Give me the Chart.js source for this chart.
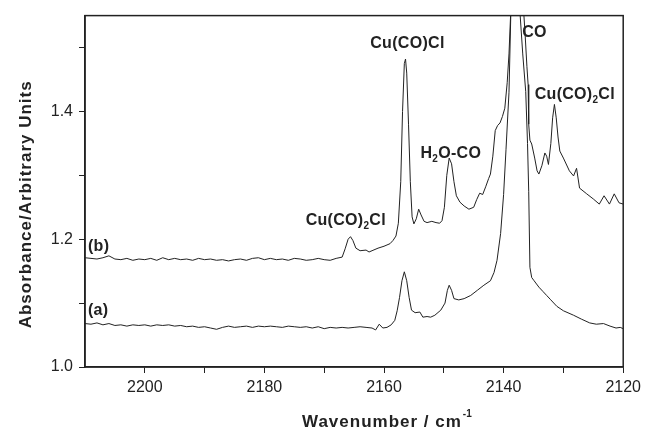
<!DOCTYPE html>
<html>
<head>
<meta charset="utf-8">
<script src="https://cdn.jsdelivr.net/npm/chart.js@4.4.0/dist/chart.umd.min.js"></script>
<style>
  html, body { margin: 0; padding: 0; background: #fff; }
  #wrap { width: 646px; height: 429px; }
</style>
</head>
<body>
<div id="wrap"><canvas id="spectrum"></canvas></div>
<script>
// trace (b) - wavenumber / absorbance
const wnB = [2210, 2209, 2208, 2207, 2206, 2205, 2204, 2203, 2202, 2201, 2200, 2199, 2198, 2197, 2196, 2195,
  2194, 2193, 2192, 2191, 2190, 2189, 2188, 2187, 2186, 2185, 2184, 2183, 2182, 2181, 2180, 2179, 2178,
  2177, 2176, 2175, 2174, 2173, 2172, 2171, 2170, 2169, 2168, 2167, 2166.5, 2166, 2165.6, 2165.2, 2164.7,
  2164, 2163, 2162.5, 2162, 2161, 2160, 2159, 2158.5, 2158, 2157.6, 2157.2, 2156.9, 2156.6, 2156.4, 2156.2,
  2155.9, 2155.6, 2155.3, 2155, 2154.6, 2154.2, 2153.8, 2153.3, 2152.8, 2152, 2151.3, 2150.7, 2150.3,
  2149.9, 2149.5, 2149.1, 2148.7, 2148.3, 2147.9, 2147.3, 2146.6, 2145.8, 2145, 2144.5, 2144, 2143.5,
  2143, 2142.5, 2142.2, 2141.8, 2141.4, 2141, 2140.6, 2140.2, 2139.8, 2139.4, 2139.1, 2138.7, 2138,
  2137.4, 2136.9, 2136.6, 2136.4, 2136.1, 2135.9, 2135.8, 2135.6, 2135.3, 2134.8, 2134.4, 2134.1, 2133.6,
  2133.1, 2132.8, 2132.5, 2132.1, 2131.8, 2131.5, 2131.2, 2130.9, 2130.6, 2130, 2129, 2128.3, 2127.8,
  2127.3, 2126.1, 2125, 2124, 2123.2, 2122.3, 2121.5, 2120.7, 2120];
const absB = [1.171, 1.170, 1.169, 1.171, 1.174, 1.169, 1.168, 1.170, 1.167, 1.169, 1.168, 1.170, 1.167, 1.171, 1.168, 1.170,
  1.168, 1.169, 1.167, 1.170, 1.168, 1.169, 1.167, 1.168, 1.166, 1.168, 1.169, 1.167, 1.170, 1.171, 1.168, 1.170, 1.168,
  1.169, 1.167, 1.170, 1.169, 1.167, 1.168, 1.170, 1.168, 1.167, 1.170, 1.172, 1.185, 1.200, 1.204, 1.198, 1.186,
  1.182, 1.183, 1.180, 1.182, 1.186, 1.189, 1.193, 1.198, 1.205, 1.225, 1.290, 1.400, 1.475, 1.482, 1.460,
  1.380, 1.290, 1.235, 1.224, 1.232, 1.247, 1.238, 1.228, 1.226, 1.228, 1.226, 1.225, 1.229,
  1.250, 1.300, 1.327, 1.318, 1.290, 1.268, 1.258, 1.252, 1.247, 1.250, 1.262, 1.272, 1.270,
  1.282, 1.295, 1.302, 1.330, 1.370, 1.378, 1.382, 1.392, 1.405, 1.445, 1.490, 1.580, 1.700,
  1.720, 1.620, 1.550, 1.520, 1.470, 1.442, 1.380, 1.355, 1.349, 1.327, 1.307, 1.302, 1.315,
  1.335, 1.330, 1.317, 1.350, 1.390, 1.411, 1.390, 1.360, 1.338, 1.327, 1.307, 1.299, 1.311,
  1.280, 1.271, 1.263, 1.255, 1.268, 1.255, 1.271, 1.257, 1.255];

// trace (a)
const wnA = [2210, 2209, 2208, 2207, 2206, 2205, 2204, 2203, 2202, 2201, 2200, 2199, 2198, 2197, 2196, 2195,
  2194, 2193, 2192, 2191, 2190, 2189, 2188, 2187, 2186, 2185, 2184, 2183, 2182, 2181, 2180, 2179, 2178,
  2177, 2176, 2175, 2174, 2173, 2172, 2171, 2170, 2169, 2168, 2167, 2166, 2165, 2164, 2163, 2162, 2161.4,
  2160.8, 2160.2, 2159.5, 2158.8, 2158.2, 2157.8, 2157.4, 2157, 2156.6, 2156.2, 2155.8, 2155.4, 2154.8,
  2154, 2153.5, 2152.8, 2152.2, 2151.5, 2150.5, 2149.8, 2149.4, 2149.1, 2148.7, 2148.3, 2147.5, 2146.6,
  2145.5, 2144.4, 2143.3, 2142.2, 2141.6, 2141.1, 2140.5, 2140, 2139.6, 2139.1, 2138.8, 2138.2, 2137.8,
  2137.3, 2136.8, 2136.3, 2136, 2135.8, 2135.6, 2135.3, 2134.9, 2134.1, 2133.4, 2132.8, 2132.2, 2131.1,
  2130, 2128.3, 2127, 2125.6, 2124.5, 2123.3, 2122.2, 2121.2, 2120.5, 2120];
const absA = [1.068, 1.067, 1.069, 1.066, 1.068, 1.065, 1.066, 1.064, 1.066, 1.065, 1.066, 1.064, 1.066, 1.065, 1.066, 1.064,
  1.065, 1.063, 1.064, 1.062, 1.063, 1.061, 1.059, 1.062, 1.064, 1.062, 1.063, 1.064, 1.062, 1.064, 1.063, 1.064, 1.063,
  1.062, 1.064, 1.063, 1.062, 1.063, 1.061, 1.063, 1.060, 1.062, 1.061, 1.062, 1.061, 1.062, 1.063, 1.062, 1.061, 1.058,
  1.067, 1.061, 1.062, 1.066, 1.073, 1.088, 1.109, 1.135, 1.149, 1.135, 1.109, 1.089, 1.085,
  1.086, 1.078, 1.079, 1.078, 1.081, 1.089, 1.100, 1.120, 1.128, 1.120, 1.107, 1.105, 1.107,
  1.112, 1.120, 1.128, 1.135, 1.148, 1.167, 1.209, 1.270, 1.340, 1.430, 1.550, 1.620, 1.650,
  1.560, 1.490, 1.431, 1.350, 1.275, 1.156, 1.140, 1.135, 1.125, 1.118, 1.112, 1.106, 1.095,
  1.088, 1.081, 1.075, 1.069, 1.067, 1.068, 1.064, 1.061, 1.062, 1.060];

// x ticks every 10, labelled every 20; y ticks every 0.1, labelled every 0.2
const xTicks = [2200, 2190, 2180, 2170, 2160, 2150, 2140, 2130, 2120];
const xTickLabels = ["2200", "", "2180", "", "2160", "", "2140", "", "2120"];
const yTicks = [1.0, 1.1, 1.2, 1.3, 1.4, 1.5];
const yTickLabels = ["1.0", "", "1.2", "", "1.4", ""];

// peak labels, anchored in data units ("_2" = subscript 2)
const peakLabels = ["(b)", "(a)", "Cu(CO)_2Cl", "Cu(CO)Cl", "H_2O-CO", "CO", "Cu(CO)_2Cl"];
const peakLabelWn = [2209.5, 2209.5, 2173.1, 2162.3, 2153.9, 2136.9, 2134.8];
const peakLabelAbs = [1.182, 1.081, 1.222, 1.500, 1.327, 1.517, 1.420];

const INK = "#222";
const FONT = "'Liberation Sans', Arial, Helvetica, sans-serif";

function drawParts(ctx, str, x, y, size) {
  // draws text with "_n" subscripts, left aligned at x, baseline y
  const parts = str.split(/_(\d)/);
  let cx = x;
  parts.forEach((p, i) => {
    if (!p) return;
    const sub = i % 2 === 1;
    ctx.font = "bold " + (sub ? Math.round(size * 0.62) : size) + "px " + FONT;
    ctx.fillText(p, cx, sub ? y + 4 : y);
    cx += ctx.measureText(p).width;
  });
}

const extras = {
  id: "extras",
  afterDraw(chart) {
    const ctx = chart.ctx;
    const a = chart.chartArea;
    const xs = chart.scales.x, ys = chart.scales.y;
    ctx.save();
    // frame
    ctx.strokeStyle = INK;
    ctx.lineWidth = 1.5;
    ctx.strokeRect(a.left, a.top, a.right - a.left, a.bottom - a.top);

    ctx.fillStyle = INK;
    ctx.textAlign = "left";
    ctx.textBaseline = "alphabetic";
    ctx.letterSpacing = "0.3px";
    peakLabels.forEach((t, i) => {
      drawParts(ctx, t, xs.getPixelForValue(peakLabelWn[i]), ys.getPixelForValue(peakLabelAbs[i]), 16);
    });

    // axis titles
    ctx.letterSpacing = "1px";
    ctx.font = "bold 17px " + FONT;
    const tx = a.left + 217, ty = a.bottom + 60;
    ctx.fillText("Wavenumber / cm", tx, ty);
    const w = ctx.measureText("Wavenumber / cm").width;
    ctx.letterSpacing = "0px";
    ctx.font = "bold 10px " + FONT;
    ctx.fillText("-1", tx + w + 1, ty - 10);

    ctx.letterSpacing = "1px";
    ctx.font = "bold 17px " + FONT;
    ctx.translate(26, (a.top + a.bottom) / 2 + 13);
    ctx.rotate(-Math.PI / 2);
    ctx.textAlign = "center";
    ctx.textBaseline = "middle";
    ctx.fillText("Absorbance/Arbitrary Units", 0, 0);
    ctx.restore();
  }
};

const lineStyle = { borderColor: INK, borderWidth: 1, pointRadius: 0, tension: 0, fill: false };

new Chart(document.getElementById("spectrum"), {
  type: "line",
  data: {
    datasets: [
      Object.assign({ label: "(b)", data: wnB.map((x, i) => ({ x: x, y: absB[i] })) }, lineStyle),
      Object.assign({ label: "(a)", data: wnA.map((x, i) => ({ x: x, y: absA[i] })) }, lineStyle),
    ],
  },
  options: {
    responsive: true,
    maintainAspectRatio: false,
    animation: false,
    layout: { padding: { top: 13, right: 19, left: 0, bottom: 0 } },
    plugins: { legend: { display: false }, tooltip: { enabled: false } },
    scales: {
      x: {
        type: "linear",
        reverse: true,
        min: 2120,
        max: 2210,
        afterBuildTicks: (s) => { s.ticks = xTicks.map((v) => ({ value: v })); },
        afterFit: (s) => { s.height = 62; },
        grid: { drawOnChartArea: false, tickLength: 6, color: INK, tickColor: INK },
        border: { color: INK, width: 1.5 },
        ticks: {
          color: INK,
          padding: 5,
          maxRotation: 0,
          autoSkip: false,
          font: { family: FONT, size: 16 },
          callback: (v) => xTickLabels[xTicks.indexOf(v)],
        },
      },
      y: {
        min: 1.0,
        max: 1.55,
        afterBuildTicks: (s) => { s.ticks = yTicks.map((v) => ({ value: v })); },
        afterFit: (s) => { s.width = 85; },
        grid: { drawOnChartArea: false, tickLength: 6, color: INK, tickColor: INK },
        border: { color: INK, width: 1.5 },
        ticks: {
          color: INK,
          padding: 6,
          autoSkip: false,
          font: { family: FONT, size: 16 },
          callback: (v) => yTickLabels[yTicks.findIndex((t) => Math.abs(t - v) < 1e-6)],
        },
      },
    },
  },
  plugins: [extras],
});
</script>
</body>
</html>
